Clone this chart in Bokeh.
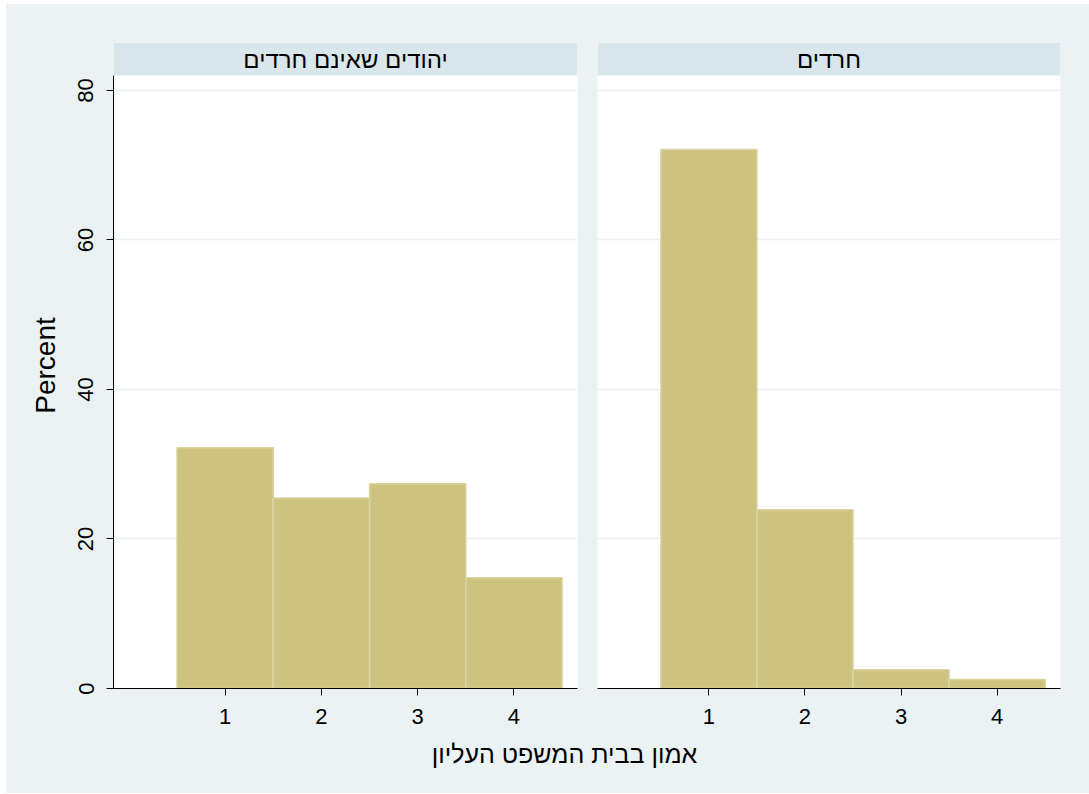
from bokeh.plotting import figure
from bokeh.models import Range1d, FixedTicker, BoxAnnotation, Label, Grid
from bokeh.layouts import column, row
from bokeh.embed import file_html
from bokeh.resources import INLINE

# ---- data ----
categories = [1, 2, 3, 4]
non_haredi = [32.2, 25.5, 27.4, 14.8]
haredi = [72.1, 23.9, 2.5, 1.2]
panel_titles = ["יהודים שאינם חרדים", "חרדים"]
y_ticks = [0, 20, 40, 60, 80]
x_title = "אמון בבית המשפט העליון"
y_title = "Percent"

# ---- style ----
BG = "#EAF2F3"
STRIP = "#D9E6EB"
BAR = "#CCC380"
BAR_LINE = "#DAD49F"
FONT = "Liberation Sans"

X0, X1 = -0.16, 4.66
Y_AXIS_TOP = 82.0
Y_END = 86.42
FIG_H = 731


def make_panel(values, title, show_y, width, b_left, b_right):
    p = figure(width=width, height=FIG_H, title=None,
               x_range=Range1d(X0, X1), y_range=Range1d(0, Y_END),
               output_backend="svg", toolbar_location=None,
               y_axis_location="left" if show_y else None,
               min_border_left=b_left, min_border_right=b_right,
               min_border_top=38, min_border_bottom=47)
    p.background_fill_color = "white"
    p.border_fill_color = BG
    p.outline_line_color = None

    # x axis
    xa = p.xaxis[0]
    xa.ticker = FixedTicker(ticks=categories)
    xa.major_label_text_font = FONT
    xa.major_label_text_font_size = "22px"
    xa.major_label_text_color = "black"
    xa.major_tick_out = 7
    xa.major_tick_in = 0
    xa.minor_tick_out = 0
    xa.minor_tick_in = 0
    xa.axis_line_color = "black"
    xa.major_tick_line_color = "black"
    xa.major_label_standoff = 13
    p.xgrid.visible = False

    if show_y:
        ya = p.yaxis[0]
        ya.ticker = FixedTicker(ticks=y_ticks)
        ya.bounds = (0, Y_AXIS_TOP)
        ya.major_label_orientation = "vertical"
        ya.major_label_text_font = FONT
        ya.major_label_text_font_size = "22px"
        ya.major_label_text_color = "black"
        ya.major_tick_out = 7
        ya.major_tick_in = 0
        ya.minor_tick_out = 0
        ya.minor_tick_in = 0
        ya.axis_line_color = "black"
        ya.major_tick_line_color = "black"
        ya.major_label_standoff = 13
        ya.axis_label = y_title
        ya.axis_label_text_font = FONT
        ya.axis_label_text_font_size = "28px"
        ya.axis_label_text_font_style = "normal"
        ya.axis_label_text_color = "black"
        ya.axis_label_standoff = 15
        p.ygrid.ticker = FixedTicker(ticks=y_ticks)
        g = p.ygrid[0]
    else:
        g = Grid(dimension=1, ticker=FixedTicker(ticks=y_ticks))
        p.add_layout(g)
    g.grid_line_color = BG
    g.grid_line_width = 1.5

    p.vbar(x=categories, top=values, bottom=0, width=1,
           fill_color=BAR, line_color=BAR_LINE, line_width=1.5)

    p.add_layout(BoxAnnotation(bottom=Y_AXIS_TOP, fill_color=STRIP, fill_alpha=1,
                               line_color=None))
    p.add_layout(Label(x=(X0 + X1) / 2, y=(Y_AXIS_TOP + Y_END) / 2, text=title,
                       text_align="center", text_baseline="middle",
                       text_font=FONT, text_font_size="24px", text_color="black"))
    return p


left = make_panel(non_haredi, panel_titles[0], True, 581, 107, 10)
right = make_panel(haredi, panel_titles[1], False, 502, 10, 29)

# bottom strip holding the shared x-axis title
TW, TH = 1083, 58
bottom = figure(width=TW, height=TH, title=None,
                x_range=Range1d(0, TW), y_range=Range1d(0, TH),
                output_backend="svg", toolbar_location=None,
                x_axis_location=None, y_axis_location=None,
                min_border=0)
bottom.background_fill_color = BG
bottom.border_fill_color = BG
bottom.outline_line_color = None
bottom.xgrid.visible = False
bottom.ygrid.visible = False
bottom.add_layout(Label(x=558, y=TH - 18, text=x_title, text_align="center",
                        text_baseline="middle", text_font=FONT,
                        text_font_size="25px", text_color="black"))

layout = column(row(left, right, spacing=0, styles={"background-color": BG}),
                bottom, spacing=0, margin=(4, 0, 0, 6),
                styles={"background-color": BG})

open("out.html", "w").write(file_html(layout, INLINE))
